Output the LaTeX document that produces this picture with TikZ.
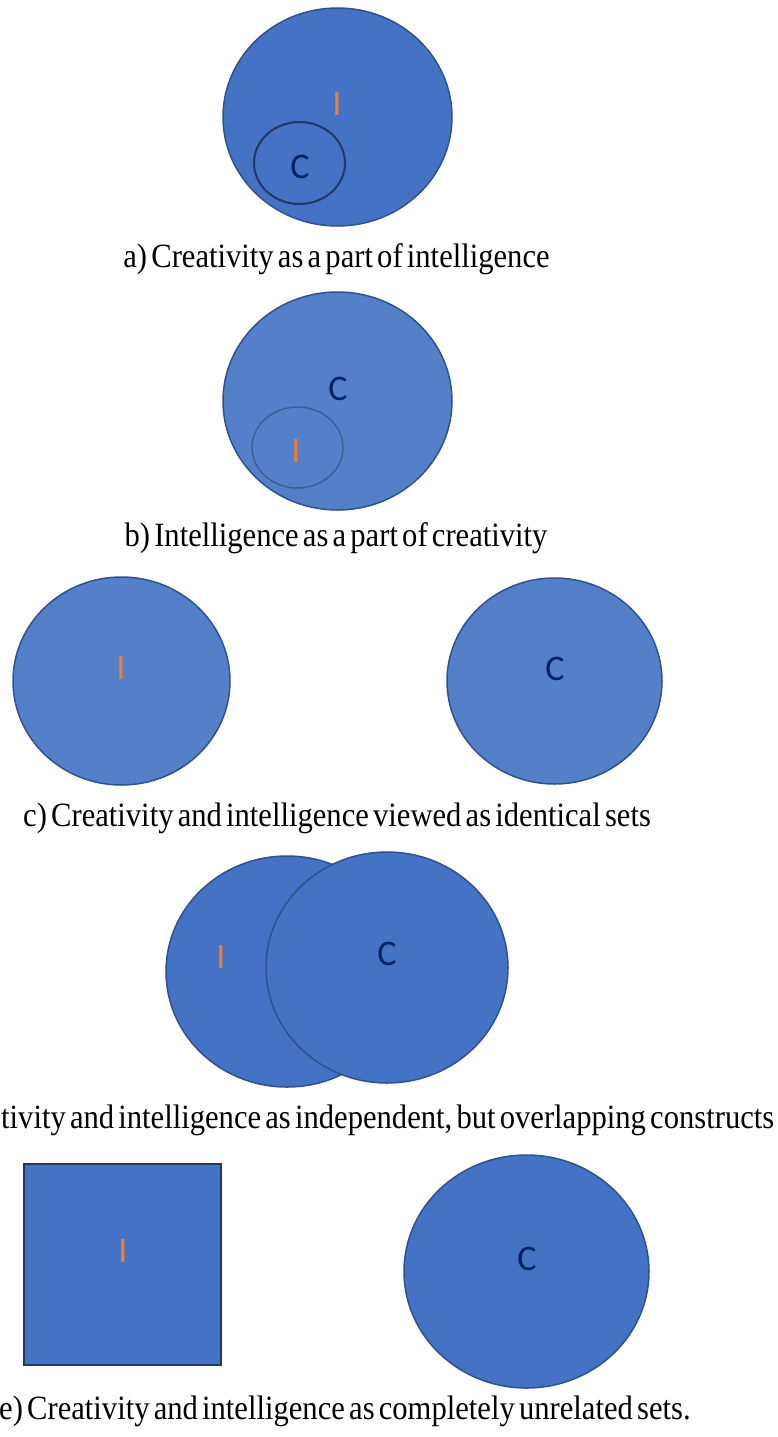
\documentclass[tikz,border=0pt]{standalone}
\usepackage{fontspec}
\setmainfont{Liberation Serif}
\newfontfamily\capfont[FakeStretch=0.9, WordSpace=0.55]{Liberation Serif}
\newfontfamily\lblfont{Carlito}
\usetikzlibrary{shapes.geometric}

\definecolor{setblue}{HTML}{4472C4}
\definecolor{setpale}{HTML}{5380C9}
\definecolor{setedge}{HTML}{2F528F}
\definecolor{inedge}{HTML}{203864}
\definecolor{softedge}{HTML}{3E5F94}
\definecolor{ilabel}{HTML}{ED7D31}
\definecolor{clabel}{HTML}{002060}

\begin{document}
\begin{tikzpicture}[
    x=1pt, y=-1pt,
    set/.style={ellipse, draw=setedge, line width=1.5pt, fill=#1, inner sep=0pt},
    set/.default=setblue,
    subset/.style={ellipse, draw=#1, line width=2pt, fill=none, inner sep=0pt},
    lbl/.style={text=#1, font=\lblfont\fontsize{36}{36}\selectfont, inner sep=0pt, anchor=base},
    caption/.style={font=\capfont\fontsize{34}{40}\selectfont, inner sep=0pt, anchor=base},
]
\useasboundingbox (0,0) rectangle (777,1437);

% a) C inside I
\node[set, minimum width=229pt, minimum height=218pt] (intA) at (337.5,117) {};
\node[subset=inedge, minimum width=91pt, minimum height=82pt] (creA) at (299.5,163) {};
\node[lbl=ilabel] (iA) at (337,115) {I};
\node[lbl=clabel] (cA) at (300,178) {C};
\node[caption] (capA) at (336.5,267) {a) Creativity as a part of intelligence};

% b) I inside C
\node[set=setpale, minimum width=229pt, minimum height=218pt] (creB) at (337.5,401) {};
\node[subset=softedge, line width=1.5pt, minimum width=91pt, minimum height=81pt] (intB) at (297.5,447.5) {};
\node[lbl=clabel] (cB) at (338,400) {C};
\node[lbl=ilabel] (iB) at (296,462) {I};
\node[caption] (capB) at (336,546) {b) Intelligence as a part of creativity};

% c) identical sets
\node[set=setpale, minimum width=217pt, minimum height=208pt] (intC) at (121.5,681) {};
\node[set=setpale, minimum width=215pt, minimum height=206pt] (creC) at (554.5,681) {};
\node[lbl=ilabel] (iC) at (121,679) {I};
\node[lbl=clabel] (cC) at (555,680) {C};
\node[caption] (capC) at (337,826) {c) Creativity and intelligence viewed as identical sets};

% d) overlapping constructs
\node[set, minimum width=242pt, minimum height=231pt] (intD) at (287,971.5) {};
\node[set, minimum width=242pt, minimum height=231pt] (creD) at (387,967.5) {};
\node[lbl=ilabel] (iD) at (221,968) {I};
\node[lbl=clabel] (cD) at (387,965) {C};
\node[caption, anchor=base west] (capD) at (1,1128) {tivity and intelligence as independent, but overlapping constructs};

% e) unrelated sets
\node[rectangle, draw=inedge, line width=2.5pt, fill=setblue, minimum width=197pt, minimum height=201pt, inner sep=0pt] (intE) at (122.5,1264.5) {};
\node[set, minimum width=245pt, minimum height=233pt] (creE) at (526.5,1271.5) {};
\node[lbl=ilabel] (iE) at (123,1262) {I};
\node[lbl=clabel] (cE) at (527,1270) {C};
\node[caption, anchor=base west] (capE) at (-1,1419) {e) Creativity and intelligence as completely unrelated sets.};

\end{tikzpicture}
\end{document}
